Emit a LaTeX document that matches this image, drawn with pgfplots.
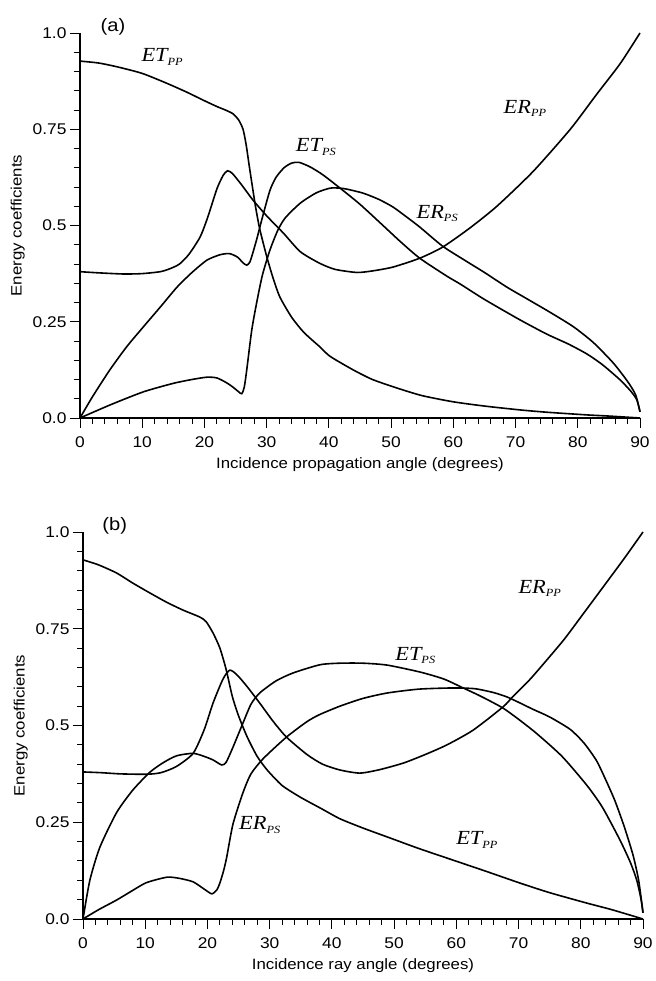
\documentclass[border=0pt]{standalone}
\usepackage{fontspec}
\setmainfont{Liberation Sans}[FakeStretch=1.12]
\newfontfamily\tim{Liberation Serif}[FakeStretch=1.12]
\usepackage{pgfplots}
\pgfplotsset{compat=1.18}
\newcommand{\clab}[2]{{\tim\itshape\fontsize{20}{20}\selectfont #1\raisebox{-0.35ex}{\fontsize{11}{11}\selectfont #2}}}
\pgfplotsset{
 myax/.style={
  scale only axis, width=560pt,
  xmin=0,xmax=90,ymin=0,ymax=1,
  axis lines=left, axis line style={-, line width=1.1pt},
  tick align=outside,
  xtick={0,10,...,90}, minor x tick num=4,
  ytick={0,0.25,0.5,0.75,1}, yticklabels={0.0,0.25,0.5,0.75,1.0},
  minor y tick num=4,
  major tick length=10pt, minor tick length=6pt,
  every tick/.style={black, line width=0.9pt},
  tick label style={font=\fontsize{15.5}{15.5}\selectfont},
  xticklabel style={yshift=-5pt},
  /pgf/number format/assume math mode=true,
  label style={font=\fontsize{15}{15}\selectfont},
  x label style={at={(axis description cs:0.5,-0.12)}, anchor=center},
  y label style={at={(axis description cs:-0.111,0.5)}, anchor=center},
  clip=false,
 },
 curve/.style={black, line width=1.6pt, smooth, tension=0.4, mark=none},
}
\begin{document}
\begin{tikzpicture}
\path (0pt,0pt) rectangle (652pt,981pt);
% ---------------- (a)
\begin{axis}[myax, height=385pt, at={(80pt,563pt)}, anchor=south west,
  xlabel={Incidence propagation angle (degrees)}, ylabel={Energy coefficients}]
% ET_PP
\addplot[curve] coordinates {(0,0.927)(3,0.922)(6,0.912)(10,0.895)(14,0.869)(17.2,0.846)(20,0.824)(22,0.809)(23.5,0.799)(24.6,0.790)(25.5,0.774)(26.2,0.750)(26.7,0.710)(27.3,0.644)(28.2,0.550)(28.9,0.490)(30,0.420)(31,0.365)(32.1,0.315)(34,0.262)(36,0.222)(38.6,0.184)(40.2,0.160)(43.9,0.125)(47,0.100)(50.9,0.078)(55,0.058)(60,0.042)(65,0.031)(70.7,0.021)(75,0.015)(81.5,0.008)(85,0.005)(90,0.0)};
% ER_PP
\addplot[curve] coordinates {(0,0.380)(3,0.377)(7,0.374)(10,0.375)(12.9,0.380)(14.5,0.388)(16,0.400)(17.5,0.425)(19.3,0.470)(20.5,0.520)(22,0.595)(23,0.630)(23.7,0.642)(24.5,0.635)(26,0.605)(27.8,0.566)(30,0.525)(32.7,0.480)(35.4,0.432)(38.5,0.402)(41,0.386)(44.5,0.378)(47,0.382)(50.3,0.392)(54.6,0.415)(58.3,0.444)(62.7,0.494)(67,0.550)(72.8,0.640)(78.8,0.750)(83,0.840)(86.8,0.920)(90,1.0)};
% ET_PS
\addplot[curve] coordinates {(0,0)(2,0.055)(4.8,0.125)(7.5,0.185)(10.2,0.237)(13,0.290)(15.6,0.340)(18,0.378)(20.4,0.410)(22.5,0.424)(24,0.427)(25.3,0.418)(26.2,0.403)(26.8,0.397)(27.3,0.405)(27.8,0.430)(28.5,0.470)(29.2,0.514)(30.5,0.590)(31.5,0.625)(32.8,0.650)(34,0.662)(35.2,0.664)(37,0.652)(39,0.632)(41.8,0.597)(45,0.555)(48.7,0.500)(51.5,0.458)(54.6,0.415)(59,0.368)(61.1,0.348)(65,0.308)(70.7,0.255)(75,0.218)(78.5,0.192)(81.5,0.166)(84,0.138)(86.8,0.099)(88.5,0.070)(89.5,0.047)(90,0.016)};
% ER_PS
\addplot[curve] coordinates {(0,0)(5,0.035)(10.2,0.068)(15,0.090)(18,0.100)(20.4,0.106)(22,0.104)(23.5,0.092)(24.6,0.080)(25.5,0.068)(26,0.063)(26.4,0.080)(26.8,0.125)(27.6,0.228)(28.4,0.300)(29.3,0.370)(30.5,0.435)(31.8,0.488)(33,0.520)(35.4,0.558)(38,0.585)(40.2,0.597)(41.8,0.597)(43,0.594)(45.5,0.584)(48,0.568)(50.3,0.548)(52.5,0.522)(54.6,0.496)(58.3,0.446)(62,0.408)(65,0.378)(68.6,0.340)(72,0.308)(75.5,0.275)(79.3,0.237)(82.5,0.196)(85.7,0.143)(88,0.095)(89.3,0.060)(90,0.016)};
\node[font=\fontsize{18}{18}\selectfont] at (axis cs:5.3,1.015) {(a)};
\node at (axis cs:13.2,0.938) {\clab{ET}{PP}};
\node at (axis cs:37.9,0.704) {\clab{ET}{PS}};
\node at (axis cs:71.5,0.805) {\clab{ER}{PP}};
\node at (axis cs:57.4,0.532) {\clab{ER}{PS}};
\end{axis}
% ---------------- (b)
\begin{axis}[myax, height=387pt, at={(83pt,62pt)}, anchor=south west,
  xlabel={Incidence ray angle (degrees)}, ylabel={Energy coefficients}]
% ET_PP
\addplot[curve] coordinates {(0,0.928)(2.5,0.915)(5.4,0.894)(8,0.868)(10.8,0.842)(13.5,0.818)(16.1,0.798)(18.8,0.780)(19.8,0.768)(20.9,0.739)(22,0.700)(23,0.645)(24,0.575)(25,0.525)(26.4,0.470)(28,0.420)(29.6,0.385)(32,0.345)(34.9,0.315)(38.1,0.287)(41.3,0.259)(45,0.235)(48.9,0.212)(54,0.182)(59.5,0.152)(65,0.122)(70.2,0.093)(75,0.068)(81,0.041)(85,0.024)(90,0.0)};
% ER_PP
\addplot[curve] coordinates {(0,0.380)(3,0.378)(6,0.375)(10.2,0.374)(12.5,0.378)(15,0.394)(17.7,0.428)(19.5,0.490)(20.9,0.558)(22.5,0.620)(23.6,0.643)(24.8,0.630)(26.4,0.600)(28.4,0.558)(30.5,0.512)(32.7,0.470)(36,0.425)(38.5,0.400)(41.3,0.385)(44.5,0.377)(47.7,0.386)(51.5,0.403)(55,0.425)(58.5,0.450)(62.7,0.488)(67.5,0.548)(69.1,0.575)(72,0.622)(77.1,0.718)(80,0.780)(83.6,0.858)(87,0.932)(90,1.0)};
% ET_PS
\addplot[curve] coordinates {(0,0)(1.1,0.100)(2.7,0.185)(5.4,0.275)(8,0.333)(10.8,0.380)(13,0.405)(15.1,0.422)(17.7,0.428)(19.5,0.420)(20.9,0.411)(22.3,0.398)(23,0.405)(24,0.440)(25.7,0.506)(27,0.555)(28.4,0.584)(31,0.615)(33.8,0.636)(38.1,0.657)(41.3,0.661)(45,0.661)(48.9,0.656)(54.2,0.638)(58,0.620)(61.1,0.597)(64,0.575)(67.5,0.545)(70.5,0.510)(73,0.478)(77,0.420)(81,0.345)(83.5,0.288)(86.3,0.204)(88,0.145)(89,0.100)(89.7,0.050)(90,0.016)};
% ER_PS
\addplot[curve] coordinates {(0,0)(2.5,0.024)(5.4,0.049)(8,0.074)(10.2,0.094)(13.5,0.108)(15.5,0.105)(17.7,0.096)(19.5,0.077)(20.7,0.065)(21.5,0.075)(22,0.093)(22.6,0.125)(23.1,0.160)(24.1,0.245)(25.7,0.326)(27,0.375)(29,0.415)(32.7,0.470)(36,0.510)(38,0.528)(41.3,0.550)(45,0.570)(48.9,0.584)(54,0.594)(59.5,0.597)(63,0.595)(66,0.585)(68.1,0.574)(70,0.560)(72.3,0.542)(75,0.522)(78.3,0.490)(80.5,0.455)(82.5,0.410)(84,0.360)(85.5,0.305)(87,0.238)(88.4,0.165)(89.3,0.100)(90,0.016)};
\node[font=\fontsize{18}{18}\selectfont] at (axis cs:5.1,1.015) {(b)};
\node at (axis cs:73.4,0.855) {\clab{ER}{PP}};
\node at (axis cs:53.4,0.680) {\clab{ET}{PS}};
\node at (axis cs:28.4,0.243) {\clab{ER}{PS}};
\node at (axis cs:63.3,0.204) {\clab{ET}{PP}};
\end{axis}
\end{tikzpicture}
\end{document}
